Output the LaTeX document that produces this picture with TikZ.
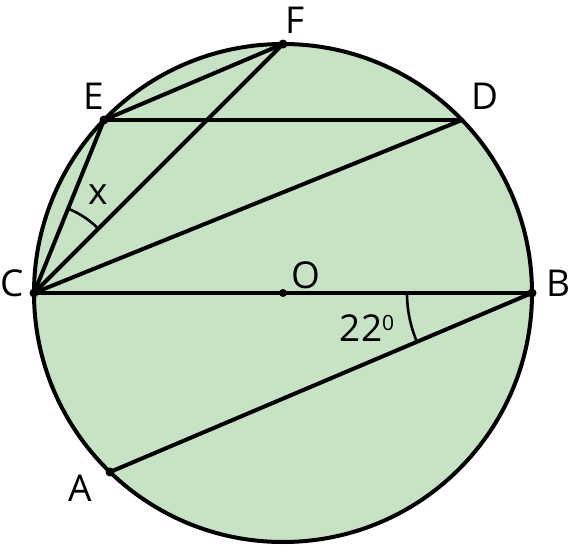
\documentclass[tikz,border=0pt]{standalone}
\usepackage{fontspec}
\setmainfont{Open Sans}
\usetikzlibrary{calc}
\begin{document}
\begin{tikzpicture}[x=1pt,y=-1pt,
  seg/.style={line width=4pt,line cap=round},
  dotp/.style={circle,fill=black,inner sep=0pt,minimum size=9pt},
  lab/.style={font=\fontsize{37}{37}\selectfont,inner sep=0pt},
  angarc/.style={line width=2.6pt}]
\useasboundingbox (0,0) rectangle (571,546);
\definecolor{disk}{HTML}{C8E2C5}
\coordinate (O) at (283,293);
\coordinate (C) at (34,293);
\coordinate (B) at (532,293);
\coordinate (F) at (283,44);
\coordinate (E) at (104,120);
\coordinate (D) at (462,120);
\coordinate (A) at (110,472);
\draw[line width=4pt,fill=disk] (O) circle[radius=249];
\draw[seg] (C) -- (B);
\draw[seg] (B) -- (A);
\draw[seg] (C) -- (D);
\draw[seg] (E) -- (D);
\draw[seg] (E) -- (F);
\draw[seg] (C) -- (F);
\draw[seg] (C) -- (E);
% angle arcs (y is flipped, so angles are negated)
\draw[angarc] ($(C)+(-68:91)$) arc[start angle=-68,end angle=-45,radius=91];
\draw[angarc] ($(B)+(180:125)$) arc[start angle=180,end angle=157,radius=125];
\node[dotp] (nC) at (C) {};
\node[dotp] (nB) at (B) {};
\node[dotp] (nE) at (E) {};
\node[dotp] (nF) at (F) {};
\node[dotp] (nA) at (A) {};
\node[circle,fill=black,inner sep=0pt,minimum size=8pt] (nO) at (O) {};
\node[lab] (lC) at (12,283) {C};
\node[lab] (lB) at (558,283) {B};
\node[lab] (lE) at (94,96) {E};
\node[lab] (lD) at (485,96) {D};
\node[lab] (lF) at (295,20) {F};
\node[lab] (lA) at (80,488) {A};
\node[lab] (lO) at (306,275) {O};
\node[lab] (lx) at (98,195) {x};
\node[lab] (l22) at (367,328) {22\raisebox{11pt}{\fontsize{21}{21}\selectfont 0}};
\end{tikzpicture}
\end{document}
